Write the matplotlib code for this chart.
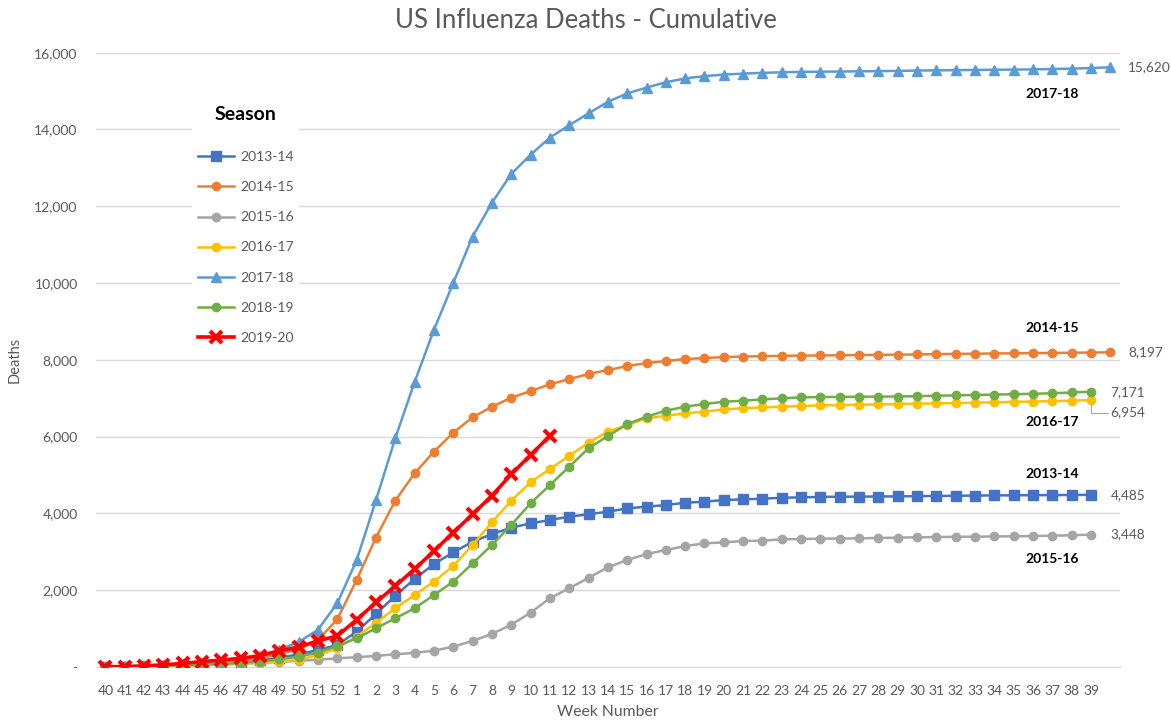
import matplotlib
matplotlib.use("Agg")
import matplotlib.pyplot as plt
from matplotlib.ticker import FuncFormatter, FixedLocator

plt.rcParams['font.family'] = ['Lato', 'DejaVu Sans']

week_labels = [str(w) for w in range(40, 53)] + [str(w) for w in range(1, 40)] + [""]

seasons = ["2013-14", "2014-15", "2015-16", "2016-17", "2017-18", "2018-19", "2019-20"]

s1314 = [5, 10, 20, 30, 45, 65, 90, 120, 170, 240, 330, 440, 575,
         920, 1380, 1857, 2292, 2682, 2986, 3263, 3463, 3628, 3741, 3828, 3914, 3980,
         4044, 4132, 4175, 4218, 4279, 4305, 4349, 4366, 4383, 4409, 4418, 4430, 4435, 4438, 4440,
         4445, 4450, 4455, 4460, 4465, 4470, 4472, 4475, 4478, 4480, 4485]
s1415 = [5, 10, 20, 35, 55, 80, 120, 170, 230, 330, 480, 703, 1242,
         2265, 3367, 4331, 5044, 5607, 6102, 6502, 6779, 7013, 7187, 7362, 7500, 7630,
         7734, 7838, 7916, 7968, 8020, 8047, 8073,
         8085, 8095, 8105, 8110, 8115, 8120, 8125, 8130, 8135, 8140, 8150, 8155, 8160, 8165,
         8170, 8175, 8180, 8185, 8190,
         8197]
s1516 = [5, 10, 15, 25, 35, 50, 65, 85, 105, 130, 160, 190, 225,
         255, 290, 330, 370, 425, 530, 680, 860, 1100, 1415, 1790, 2050, 2320,
         2596, 2786, 2942, 3047, 3151, 3221, 3247, 3281, 3290, 3325, 3334, 3342, 3345, 3351, 3360,
         3370, 3377, 3385, 3390, 3395, 3400, 3405, 3410, 3420, 3432, 3448]
s1617 = [5, 10, 15, 25, 35, 50, 65, 85, 110, 145, 185, 310, 490,
         789, 1154, 1528, 1875, 2222, 2630, 3177, 3767, 4331, 4809, 5156, 5500, 5841,
         6128, 6302, 6476, 6545, 6606, 6649, 6710, 6737, 6763, 6780, 6797, 6815, 6823, 6832, 6840,
         6850, 6858, 6866, 6875, 6885, 6895, 6905, 6915, 6925, 6935, 6954]
s1718 = [10, 15, 30, 50, 75, 100, 140, 190, 280, 450, 650, 970, 1660,
         2780, 4340, 5960, 7420, 8780, 10000, 11210, 12090, 12840, 13340, 13790, 14110, 14420,
         14720, 14940, 15090, 15230, 15330, 15390, 15430, 15455, 15475, 15490,
         15500, 15505, 15510, 15515, 15520, 15525, 15535, 15540, 15545, 15550, 15555, 15560,
         15565, 15575, 15585, 15600,
         15620]
s1819 = [5, 10, 20, 30, 45, 60, 80, 105, 140, 200, 270, 375, 547,
         747, 1008, 1268, 1528, 1875, 2222, 2700, 3177, 3698, 4262, 4739, 5216, 5695,
         6015, 6328, 6519, 6675, 6780, 6849, 6909, 6936, 6971, 6997, 7023, 7032, 7035, 7040, 7042,
         7045, 7055, 7065, 7075, 7085, 7095, 7105, 7115, 7130, 7150, 7171]
s1920 = [10, 10, 30, 55, 95, 140, 180, 225, 295, 420, 520, 680, 810,
         1230, 1680, 2110, 2550, 3020, 3500, 3980, 4460, 5020, 5520, 6020]

series = [s1314, s1415, s1516, s1617, s1718, s1819, s1920]
colors = ["#4472C4", "#ED7D31", "#A5A5A5", "#FFC000", "#5B9BD5", "#70AD47", "#FF0000"]
markers = ["s", "o", "o", "o", "^", "o", "x"]

W, H = 1171, 725
left_px, right_px, top_px, bottom_px = 95.7, 1120.0, 52.7, 667.0
fig = plt.figure(figsize=(W / 100, H / 100), dpi=100)
ax = fig.add_axes([left_px / W, 1 - bottom_px / H, (right_px - left_px) / W, (bottom_px - top_px) / H])

handles = []
for name, vals, c, m in zip(seasons, series, colors, markers):
    xs = list(range(len(vals)))
    if m == "x":
        h, = ax.plot(xs, vals, color=c, lw=2.6, marker="x", ms=8, mew=3, label=name, zorder=5)
    elif m == "s":
        h, = ax.plot(xs, vals, color=c, lw=1.8, marker="s", ms=6.5, label=name, zorder=3)
    elif m == "^":
        h, = ax.plot(xs, vals, color=c, lw=1.8, marker="^", ms=6.5, label=name, zorder=3)
    else:
        h, = ax.plot(xs, vals, color=c, lw=1.8, marker="o", ms=6, label=name, zorder=3)
    handles.append(h)

ax.set_xlim(-0.5, len(week_labels) - 0.5)
ax.set_ylim(0, 16000)
ax.xaxis.set_major_locator(FixedLocator(list(range(len(week_labels)))))
ax.set_xticklabels(week_labels)
ax.yaxis.set_major_locator(FixedLocator(list(range(0, 16001, 2000))))
ax.yaxis.set_major_formatter(FuncFormatter(lambda v, p: "-" if v == 0 else f"{int(v):,}"))
ax.grid(axis="y", color="#D9D9D9", lw=1)
ax.set_axisbelow(True)
for sp in ["top", "right", "left"]:
    ax.spines[sp].set_visible(False)
ax.spines["bottom"].set_color("#D9D9D9")
ax.tick_params(axis="both", length=0, colors="#595959", labelsize=10)
ax.tick_params(axis="x", pad=13)
ax.tick_params(axis="y", pad=13)

ax.set_xlabel("Week Number", fontsize=11.3, color="#595959", labelpad=6)
ax.set_ylabel("Deaths", fontsize=10.5, color="#595959", labelpad=9)
fig.text(0.5, 1 - 20 / H, "US Influenza Deaths - Cumulative", ha="center", va="center",
         fontsize=18.5, color="#595959")

leg = ax.legend(handles=handles, title="Season", loc="upper left",
                bbox_to_anchor=(185 / W, 1 - 94 / H), bbox_transform=fig.transFigure,
                frameon=True, fontsize=10, handlelength=2.6, labelspacing=1.3,
                handletextpad=0.45, borderpad=0.4)
leg.get_frame().set_facecolor("white")
leg.get_frame().set_edgecolor("none")
leg.get_frame().set_alpha(1)
leg.get_title().set_fontsize(14)
leg.get_title().set_fontweight("bold")
leg._legend_box.sep = 20
for t in leg.get_texts():
    t.set_color("#595959")

# value labels at the end of each season
val_cfg = {"2013-14": (14, 0), "2014-15": (13, 0), "2015-16": (14, 0),
           "2016-17": (14, -9), "2017-18": (13, 0), "2018-19": (14, 0)}
for name, vals in zip(seasons, series):
    if name not in val_cfg:
        continue
    dx, dy = val_cfg[name]
    xi = len(vals) - 1
    if name == "2016-17":
        ax.annotate(f"{vals[-1]:,}", xy=(xi, vals[-1]), xytext=(dx, dy), textcoords="offset points",
                    ha="left", va="center", fontsize=9.8, color="#595959",
                    arrowprops=dict(arrowstyle="-", color="#A6A6A6", lw=0.8,
                                    connectionstyle="angle,angleA=0,angleB=90,rad=0",
                                    shrinkA=0, shrinkB=3))
    else:
        ax.annotate(f"{vals[-1]:,}", xy=(xi, vals[-1]), xytext=(dx, dy), textcoords="offset points",
                    ha="left", va="center", fontsize=9.8, color="#595959")

# season name labels
name_cfg = {"2017-18": -18, "2014-15": 18, "2016-17": -15, "2013-14": 15, "2015-16": -17}
for name, vals in zip(seasons, series):
    if name not in name_cfg:
        continue
    ax.annotate(name, xy=(49, vals[49]), xytext=(0, name_cfg[name]), textcoords="offset points",
                ha="center", va="center", fontsize=10, color="black", fontweight="bold")

fig.savefig("out.png", dpi=100)
